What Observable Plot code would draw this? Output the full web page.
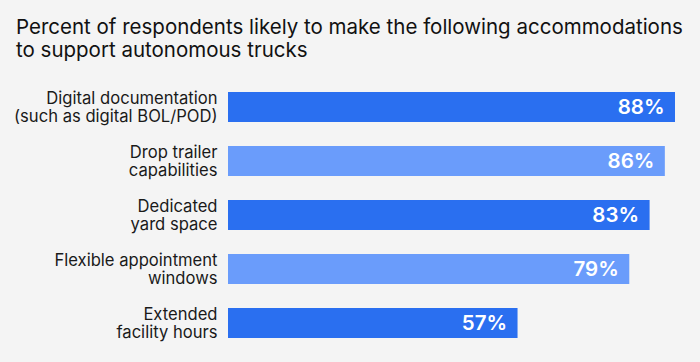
<!DOCTYPE html>
<html>
<head>
<meta charset="utf-8">
<script src="https://cdn.jsdelivr.net/npm/d3@7"></script>
<script src="https://cdn.jsdelivr.net/npm/@observablehq/plot@0.6"></script>
<style>
  html, body { margin: 0; padding: 0; background: #f4f4f4; }
  body { width: 700px; height: 362px; overflow: hidden; font-family: Inter, "Open Sans", sans-serif; }
  #title { box-sizing: border-box; height: 70px; padding: 15px 0 0 16px; font-size: 20.5px; line-height: 23px; color: #111; white-space: nowrap; }
  svg { display: block; }
</style>
</head>
<body>
<div id="title">Percent of respondents likely to make the following accommodations<br>to support autonomous trucks</div>
<div id="chart"></div>
<script>
const categories = [
  "Digital documentation\n(such as digital BOL/POD)",
  "Drop trailer\ncapabilities",
  "Dedicated\nyard space",
  "Flexible appointment\nwindows",
  "Extended\nfacility hours"
];
const values = [88, 86, 83, 79, 57];

const data = categories.map((c, i) => ({category: c, value: values[i], idx: i}));
const dark = "#2a6ff0";
const light = "#6a9cfb";

const chart = Plot.plot({
  width: 700,
  height: 292,
  marginLeft: 228,
  marginRight: 25,
  marginTop: 10,
  marginBottom: 12,
  style: {background: "#f4f4f4", fontFamily: "Inter, 'Open Sans', sans-serif"},
  x: {domain: [0, 88], axis: null},
  y: {domain: categories, axis: null, paddingInner: 24/54, paddingOuter: 12/54},
  marks: [
    Plot.barX(data, {x: "value", y: "category", fill: d => d.idx % 2 ? light : dark}),
    Plot.text(data, {x: 0, y: "category", text: "category", textAnchor: "end", dx: -11, fontSize: 16.6, lineHeight: 1.03, fill: "#1a1a1a"}),
    Plot.text(data, {x: "value", y: "category", text: d => d.value + "%", textAnchor: "end", dx: -11, fontSize: 20.5, fontWeight: 600, fill: "white"})
  ]
});
document.getElementById("chart").appendChild(chart);
</script>
</body>
</html>
